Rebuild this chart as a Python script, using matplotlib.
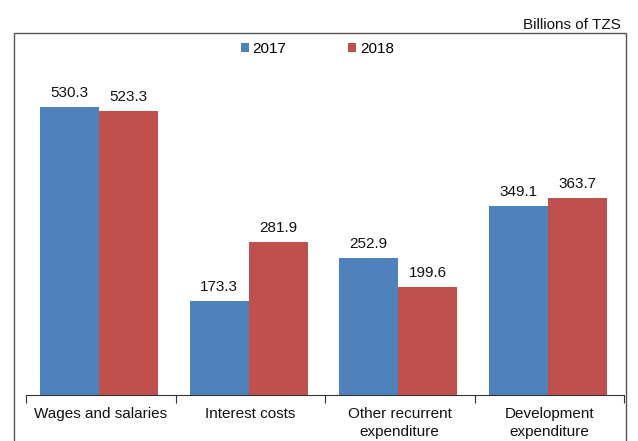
import matplotlib.pyplot as plt
import numpy as np
from matplotlib.patches import Rectangle

plt.rcParams['font.family'] = ['Liberation Sans', 'DejaVu Sans']

categories = ['Wages and salaries', 'Interest costs', 'Other recurrent\nexpenditure',
              'Development\nexpenditure']
years = ['2017', '2018']
values_2017 = [530.3, 173.3, 252.9, 349.1]
values_2018 = [523.3, 281.9, 199.6, 363.7]
colors = ['#4F81BD', '#C0504D']

W, H = 638, 441
fig = plt.figure(figsize=(W / 100, H / 100), dpi=100)

# outer frame, open at the bottom of the figure
fig.patches.append(Rectangle((14 / W, -0.05), (626 - 14) / W, 1.05 - 33 / H,
                             transform=fig.transFigure, fill=False,
                             edgecolor='#555555', linewidth=1.0))

ax = fig.add_axes([26 / W, 1 - 395 / H, (624 - 26) / W, (395 - 33) / H])
x = np.arange(len(categories))
bw = 0.395
b1 = ax.bar(x - bw / 2 - 0.01, values_2017, bw, color=colors[0], label=years[0])
b2 = ax.bar(x + bw / 2 - 0.01, values_2018, bw, color=colors[1], label=years[1])

for bars, vals in [(b1, values_2017), (b2, values_2018)]:
    for rect, v in zip(bars, vals):
        ax.annotate(f'{v:.1f}', (rect.get_x() + rect.get_width() / 2, v),
                    xytext=(0, 5), textcoords='offset points',
                    ha='center', va='bottom', fontsize=11, color='#111111')

ax.set_xlim(-0.5, len(categories) - 0.5)
ax.set_ylim(0, 667)
for s in ['top', 'right', 'left']:
    ax.spines[s].set_visible(False)
ax.spines['bottom'].set_color('#333333')
ax.set_yticks([])

# separators between categories
ax.set_xticks(np.arange(len(categories) + 1) - 0.5)
ax.set_xticklabels([])
ax.tick_params(axis='x', length=6, color='#333333', direction='out')
for i, c in enumerate(categories):
    ax.text(i, -22, c, ha='center', va='top', fontsize=11, color='#111111',
            linespacing=1.35)

ax.legend(loc='upper center', bbox_to_anchor=(0.487, 1.0), ncol=2, frameon=False,
          fontsize=11, handlelength=0.55, handleheight=0.55, handletextpad=0.25,
          columnspacing=4.0, borderaxespad=0.2)

fig.text(621 / W, 1 - 25 / H, 'Billions of TZS', ha='right', va='center',
         fontsize=11, color='#111111')

fig.savefig('out.png', dpi=100)
